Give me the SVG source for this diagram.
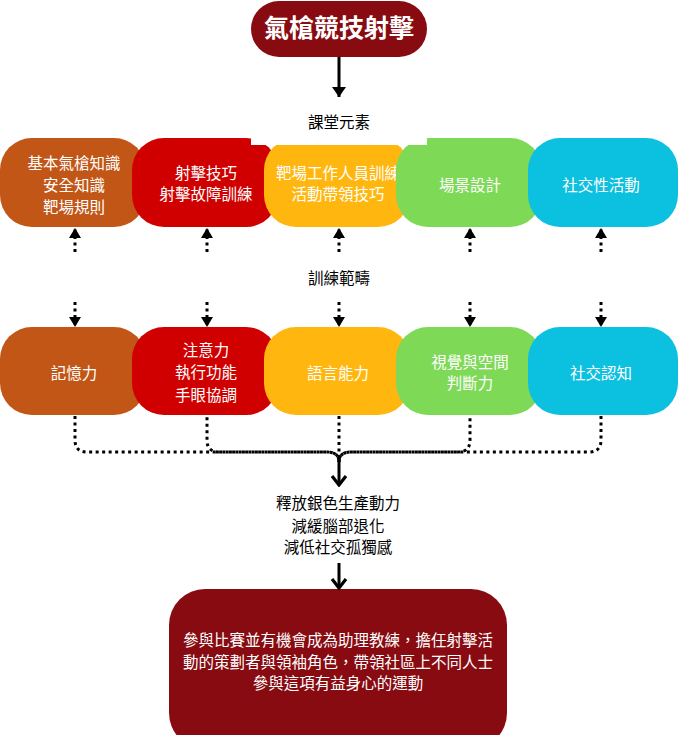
<svg xmlns="http://www.w3.org/2000/svg" width="678" height="735" viewBox="0 0 678 735">
  <style>
    text { font-family: "Noto Sans CJK TC", "Noto Sans CJK SC", "Noto Sans", sans-serif; text-anchor: middle; }
    .w { fill: #ffffff; font-size: 15.5px; }
    .k { fill: #000000; font-size: 15.5px; }
    .title { fill: #ffffff; font-size: 25px; font-weight: bold; }
    .dot { fill: none; stroke: #000; stroke-width: 3; stroke-dasharray: 3 3.5; }
    .solid { fill: none; stroke: #000; stroke-width: 3; }
    .c1 { fill: #C25617; }
    .c2 { fill: #D00000; }
    .c3 { fill: #FFB70F; }
    .c4 { fill: #7ED957; }
    .c5 { fill: #0CC0DF; }
    .dark { fill: #870B11; }
    .lbl { fill: #ffffff; }
  </style>
  <defs>
    <marker id="tri" markerUnits="userSpaceOnUse" viewBox="0 0 10 12" markerWidth="10" markerHeight="12" refX="10" refY="6" orient="auto">
      <path d="M0,0 L10,6 L0,12 Z" fill="#000"/>
    </marker>
    <marker id="tribig" markerUnits="userSpaceOnUse" viewBox="0 0 10 14" markerWidth="10" markerHeight="14" refX="10" refY="7" orient="auto">
      <path d="M0,0 L10,7 L0,14 Z" fill="#000"/>
    </marker>
    <marker id="chev" markerUnits="userSpaceOnUse" viewBox="0 0 14 18" markerWidth="14" markerHeight="18" refX="12" refY="9" orient="auto">
      <path d="M3,2 L12,9 L3,16" fill="none" stroke="#000" stroke-width="3.2"/>
    </marker>
  </defs>

  <!-- Title -->
  <g id="title">
    <rect class="dark" x="251" y="1" width="176" height="56" rx="28"/>
    <text class="title" x="339" y="37">氣槍競技射擊</text>
  </g>

  <!-- Top row: classroom elements -->
  <g id="top-1">
    <rect class="c1" x="0" y="138" width="146" height="89" rx="32"/>
    <text class="w" x="74" y="169">基本氣槍知識</text>
    <text class="w" x="74" y="191">安全知識</text>
    <text class="w" x="74" y="213">靶場規則</text>
  </g>
  <g id="top-2">
    <rect class="c2" x="132" y="138" width="146" height="89" rx="32"/>
    <text class="w" x="206" y="179">射擊技巧</text>
    <text class="w" x="206" y="200">射擊故障訓練</text>
  </g>
  <g id="top-3">
    <rect class="c3" x="264" y="138" width="146" height="89" rx="32"/>
    <text class="w" x="338" y="179">靶場工作人員訓練</text>
    <text class="w" x="338" y="200">活動帶領技巧</text>
  </g>
  <g id="top-4">
    <rect class="c4" x="396" y="138" width="146" height="89" rx="32"/>
    <text class="w" x="470" y="191">場景設計</text>
  </g>
  <g id="top-5">
    <rect class="c5" x="528" y="138" width="150" height="89" rx="32"/>
    <text class="w" x="601" y="191">社交性活動</text>
  </g>

  <!-- Label: 課堂元素 -->
  <g id="label-classroom">
    <rect class="lbl" x="251" y="98" width="176" height="47"/>
    <text class="k" x="339" y="128">課堂元素</text>
  </g>

  <!-- Label: 訓練範疇 -->
  <g id="label-training">
    <rect class="lbl" x="0" y="252" width="678" height="50"/>
    <text class="k" x="339" y="284">訓練範疇</text>
  </g>

  <!-- Bottom row: training domains -->
  <g id="bot-1">
    <rect class="c1" x="0" y="327" width="146" height="88" rx="32"/>
    <text class="w" x="74" y="379">記憶力</text>
  </g>
  <g id="bot-2">
    <rect class="c2" x="132" y="327" width="146" height="88" rx="32"/>
    <text class="w" x="206" y="356">注意力</text>
    <text class="w" x="206" y="378">執行功能</text>
    <text class="w" x="206" y="401">手眼協調</text>
  </g>
  <g id="bot-3">
    <rect class="c3" x="264" y="327" width="146" height="88" rx="32"/>
    <text class="w" x="338" y="379">語言能力</text>
  </g>
  <g id="bot-4">
    <rect class="c4" x="396" y="327" width="146" height="88" rx="32"/>
    <text class="w" x="470" y="368">視覺與空間</text>
    <text class="w" x="470" y="389">判斷力</text>
  </g>
  <g id="bot-5">
    <rect class="c5" x="528" y="327" width="150" height="88" rx="32"/>
    <text class="w" x="601" y="379">社交認知</text>
  </g>

  <!-- Outcomes -->
  <g id="outcomes">
    <rect class="lbl" x="210" y="486" width="258" height="76"/>
    <text class="k" x="338" y="509">釋放銀色生產動力</text>
    <text class="k" x="338" y="532">減緩腦部退化</text>
    <text class="k" x="338" y="553">減低社交孤獨感</text>
  </g>

  <!-- Final box -->
  <g id="final">
    <rect class="dark" x="169" y="589" width="338" height="160" rx="36"/>
    <text class="w" x="338" y="646">參與比賽並有機會成為助理教練，擔任射擊活</text>
    <text class="w" x="338" y="668">動的策劃者與領袖角色，帶領社區上不同人士</text>
    <text class="w" x="338" y="689">參與這項有益身心的運動</text>
  </g>

  <!-- Connectors -->
  <g id="connectors">
    <path class="solid" d="M339,57 V97" marker-end="url(#tribig)"/>

    <path class="dot" d="M75,252 V228" marker-end="url(#tri)"/>
    <path class="dot" d="M207,252 V228" marker-end="url(#tri)"/>
    <path class="dot" d="M339,252 V228" marker-end="url(#tri)"/>
    <path class="dot" d="M470,252 V228" marker-end="url(#tri)"/>
    <path class="dot" d="M601,252 V228" marker-end="url(#tri)"/>

    <path class="dot" d="M75,302 V327" marker-end="url(#tri)"/>
    <path class="dot" d="M207,302 V327" marker-end="url(#tri)"/>
    <path class="dot" d="M339,302 V327" marker-end="url(#tri)"/>
    <path class="dot" d="M470,302 V327" marker-end="url(#tri)"/>
    <path class="dot" d="M601,302 V327" marker-end="url(#tri)"/>

    <path class="dot" d="M75,416 V440 Q75,452 87,452 H327 Q339,452 339,462"/>
    <path class="dot" d="M207,416 V440 Q207,452 219,452 H327 Q339,452 339,462" stroke-dashoffset="5.25"/>
    <path class="dot" d="M339,416 V462"/>
    <path class="dot" d="M470,416 V440 Q470,452 458,452 H351 Q339,452 339,462" stroke-dashoffset="4.25"/>
    <path class="dot" d="M601,416 V440 Q601,452 589,452 H351 Q339,452 339,462"/>
    <path class="solid" d="M339,457 V485" marker-end="url(#chev)"/>

    <path class="solid" d="M339,563 V588" marker-end="url(#chev)"/>
  </g>
</svg>
